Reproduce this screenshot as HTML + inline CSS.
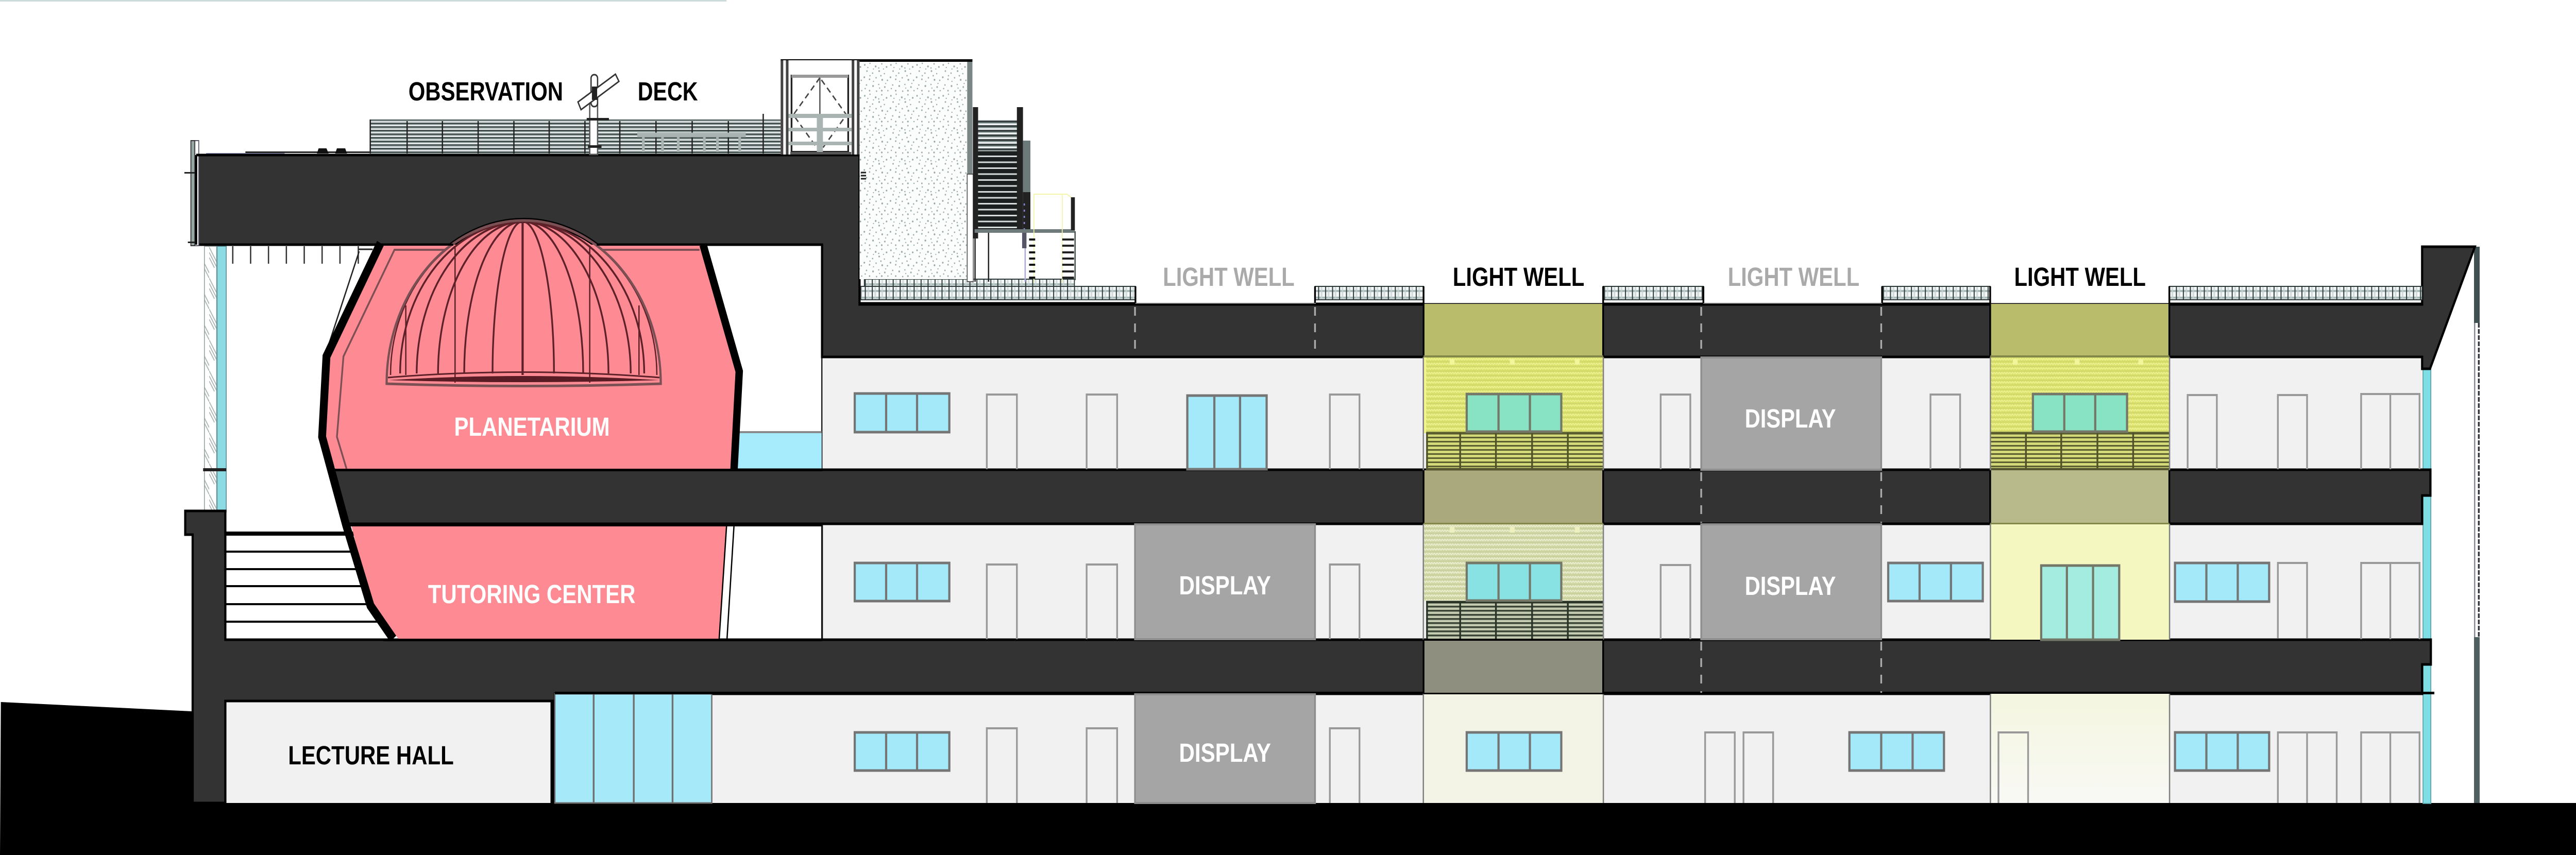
<!DOCTYPE html>
<html lang="en"><head><meta charset="utf-8"><title>Building Section</title>
<style>html,body{margin:0;padding:0;width:100%;height:100%;overflow:hidden;background:#fff}svg{display:block;width:100vw;height:100vh}text{font-family:"Liberation Sans",Arial,sans-serif;font-weight:700}</style></head>
<body>
<svg xmlns="http://www.w3.org/2000/svg" viewBox="0 0 5910 1660" preserveAspectRatio="none">
<defs>
<pattern id="rail" width="82" height="7" patternUnits="userSpaceOnUse"><rect width="82" height="7" fill="#f2f5f5"/><rect width="82" height="3" fill="#465252"/><rect y="3" width="82" height="2" fill="#a8b5b3"/></pattern>
<pattern id="stair" width="90" height="11.5" patternUnits="userSpaceOnUse"><rect width="90" height="11.5" fill="#1b1f1f"/><rect y="3" width="90" height="3" fill="#d5dcda"/></pattern>
<pattern id="stairt" width="90" height="9" patternUnits="userSpaceOnUse"><rect width="90" height="9" fill="#eef1f1"/><rect width="90" height="4" fill="#3a4444"/><rect y="4" width="90" height="2" fill="#9aa8a6"/></pattern>
<pattern id="grid" width="16" height="13" patternUnits="userSpaceOnUse"><rect width="16" height="13" fill="#f6f8f8"/><rect y="4" width="16" height="4" fill="#a9bab9"/><rect x="6" width="4" height="13" fill="#c7d2d2" opacity=".7"/><rect x="0" width="2.5" height="13" fill="#334242"/></pattern>
<pattern id="stip" width="60" height="60" patternUnits="userSpaceOnUse"><rect width="60" height="60" fill="#fbfcfc"/><g fill="#9aa9a7"><circle cx="4" cy="6" r="1.7"/><circle cx="16" cy="3" r="1.4"/><circle cx="29" cy="9" r="1.9"/><circle cx="43" cy="4" r="1.5"/><circle cx="54" cy="10" r="1.8"/><circle cx="9" cy="18" r="1.6"/><circle cx="22" cy="22" r="1.5"/><circle cx="37" cy="18" r="1.8"/><circle cx="49" cy="23" r="1.4"/><circle cx="3" cy="30" r="1.8"/><circle cx="15" cy="34" r="1.6"/><circle cx="30" cy="31" r="1.5"/><circle cx="44" cy="35" r="1.9"/><circle cx="56" cy="36" r="1.5"/><circle cx="8" cy="45" r="1.5"/><circle cx="23" cy="47" r="1.9"/><circle cx="36" cy="44" r="1.4"/><circle cx="50" cy="49" r="1.7"/><circle cx="15" cy="56" r="1.6"/><circle cx="31" cy="57" r="1.5"/><circle cx="43" cy="56" r="1.8"/><circle cx="57" cy="56" r="1.4"/><circle cx="11" cy="11" r="1.3"/><circle cx="36" cy="12" r="1.4"/><circle cx="47" cy="14" r="1.2"/><circle cx="16" cy="27" r="1.4"/><circle cx="41" cy="27" r="1.5"/><circle cx="24" cy="38" r="1.3"/><circle cx="52" cy="42" r="1.3"/><circle cx="5" cy="52" r="1.4"/><circle cx="38" cy="51" r="1.3"/><circle cx="24" cy="14" r="1.2"/></g></pattern>
<pattern id="tex1" width="12" height="9" patternUnits="userSpaceOnUse"><rect width="12" height="9" fill="#d9e06e"/><path d="M0 6 L3 3 L6 6 L9 3 L12 6" fill="none" stroke="#eef28e" stroke-width="2"/><path d="M0 0H12" stroke="#c8cf60" stroke-width="1.5"/></pattern>
<pattern id="tex2" width="12" height="9" patternUnits="userSpaceOnUse"><rect width="12" height="9" fill="#d0d6a4"/><path d="M0 6 L3 3 L6 6 L9 3 L12 6" fill="none" stroke="#eceed0" stroke-width="2"/><path d="M0 0H12" stroke="#c0c696" stroke-width="1.5"/></pattern>
<pattern id="rail1" width="80" height="8" patternUnits="userSpaceOnUse"><rect width="80" height="8" fill="#d3d878"/><rect width="80" height="3" fill="#5a5d30"/></pattern>
<pattern id="rail2" width="80" height="8" patternUnits="userSpaceOnUse"><rect width="80" height="8" fill="#c4cab0"/><rect width="80" height="3.5" fill="#3b4636"/></pattern>
<pattern id="hatch" width="30" height="60" patternUnits="userSpaceOnUse"><rect width="30" height="60" fill="#fff"/><path d="M0 0 L30 50 M0 10 L30 60 M0 20 L12 40" stroke="#aab4b4" stroke-width="2" fill="none"/></pattern>
<linearGradient id="gf" x1="0" y1="0" x2="0" y2="1"><stop offset="0" stop-color="#f4f6df"/><stop offset="1" stop-color="#f9f9f5"/></linearGradient>
<clipPath id="above"><rect x="800" y="400" width="800" height="75"/></clipPath>
</defs>

<rect width="5910" height="1660" fill="#fff"/>
<rect x="0" y="0" width="1667" height="3" fill="#cfdcdc"/>

<!-- Floors -->
<rect x="1886" y="692" width="3671" height="222" fill="#f1f1f1"/>
<rect x="1886" y="1016" width="3671" height="228" fill="#f1f1f1"/>
<rect x="1273" y="1345" width="4284" height="216" fill="#f1f1f1"/>
<rect x="517" y="1362" width="746" height="199" fill="#f1f1f1"/>
<rect x="1884" y="692" width="3" height="222" fill="#222"/>
<rect x="1884" y="1016" width="4" height="228" fill="#111"/>

<!-- Ground -->
<polygon points="0,1660 2,1363 440,1381 440,1559 5910,1559 5910,1660" fill="#000"/>

<!-- Teal facade strips -->
<rect x="5559" y="716" width="18" height="195" fill="#7fdde6" stroke="#5b9ea5" stroke-width="2"/>
<rect x="5559" y="962" width="18" height="282" fill="#7fdde6" stroke="#5b9ea5" stroke-width="2"/>
<rect x="5559" y="1290" width="18" height="270" fill="#7fdde6" stroke="#5b9ea5" stroke-width="2"/>

<!-- Right outer line -->
<rect x="5676" y="479" width="13" height="148" fill="#3f5050"/>
<rect x="5676" y="1237" width="13" height="322" fill="#4f6060"/>
<rect x="5676" y="627" width="3" height="610" fill="#889"/>
<path d="M5687 627V1237" stroke="#334" stroke-width="4" stroke-dasharray="9 3" fill="none"/>

<!-- Left facade -->
<rect x="469" y="478" width="28" height="516" fill="url(#hatch)" stroke="#9aa5a5" stroke-width="2"/>
<rect x="498" y="478" width="21" height="516" fill="#8cdbe2" stroke="#5a8f95" stroke-width="2"/>
<rect x="466" y="909" width="53" height="6" fill="#222"/>

<!-- Under-slab ticks -->
<path d="M534 478V512M575 478V512M616 478V512M657 478V512M698 478V512M739 478V512M780 478V512M822 478V512" stroke="#333" stroke-width="3" fill="none"/>
<path d="M824 488 L746 690 M823 484H855" stroke="#222" stroke-width="3" fill="none"/>

<!-- Stairs on terrace -->
<rect x="517" y="1032" width="300" height="8" fill="#000"/>
<g fill="#000"><rect x="517" y="1069" width="400" height="4"/><rect x="517" y="1103" width="400" height="4"/><rect x="517" y="1136" width="400" height="4"/><rect x="517" y="1171" width="400" height="4"/><rect x="517" y="1205" width="400" height="4"/></g>

<!-- Planetarium blue glass -->
<rect x="1680" y="840" width="205" height="72" fill="#a6ecfc"/>
<rect x="1690" y="837" width="195" height="4" fill="#8a8a8a"/>

<!-- Slabs -->
<path d="M425 992H517V1242H5577V1290H5557V1347H1273V1361H517V1559H442V1038H425Z" fill="#333" stroke="#000" stroke-width="5"/>
<path d="M762 912H5576V962H5557V1017H800Z" fill="#333" stroke="#000" stroke-width="5"/>
<path d="M450 301H1972V591H5557V479H5678L5575 716H5557V693H1886V475H450Z" fill="#333" stroke="#000" stroke-width="5"/>

<!-- Pink rooms -->
<polygon points="872,476 1613,476 1692,721 1680,912 770,912 741,848 752,692" fill="#fe8b93"/>
<polygon points="806,1020 1666,1020 1649,1240 914,1240 852,1176" fill="#fe8b93"/>
<path d="M1667 1020 L1650 1240 M1684 1020 L1668 1240" stroke="#000" stroke-width="3" fill="none"/>
<path d="M1605 485H905L788 692 773 848 795 910" fill="none" stroke="#7e5055" stroke-width="4"/>

<!-- Dome -->
<path d="M887 745 A314.5 317 0 0 1 1516 745Z" fill="#fe8b93"/>
<path d="M887 745 A314.5 317 0 0 1 1516 745" fill="none" stroke="#000" stroke-width="10" clip-path="url(#above)"/>
<g fill="none" stroke="#5e2029" stroke-width="4">
<path d="M1199 430 A281 295 0 0 0 918 725"/>
<path d="M1199 430 A243 295 0 0 0 956 725"/>
<path d="M1199 430 A194 295 0 0 0 1005 725"/>
<path d="M1199 430 A134 295 0 0 0 1065 725"/>
<path d="M1199 430 A69 295 0 0 0 1130 725"/>
<path d="M1199 430V728" stroke-width="5"/>
<path d="M1199 430 A72 295 0 0 1 1271 725"/>
<path d="M1199 430 A139 295 0 0 1 1338 725"/>
<path d="M1199 430 A197 295 0 0 1 1396 725"/>
<path d="M1199 430 A248 295 0 0 1 1447 725"/>
<path d="M1199 430 A279 295 0 0 1 1478 725"/>
<path d="M1044 477V743M1353 477V743M931 593V728M1466 593V728" stroke-width="3"/>
<path d="M896 728 A303 298 0 0 1 1199 430 A303 298 0 0 1 1507 728" stroke-width="3"/>
<path d="M890 733 Q1199 712 1513 733" stroke-width="3"/>
</g>
<path d="M887 745 A314.5 317 0 0 1 1516 745 Q1199 754 887 745Z" fill="none" stroke="#7a5054" stroke-width="5"/>
<path d="M892 738 Q1199 722 1512 738 Q1199 746 892 738Z" fill="#5a1c24"/>

<!-- Thick black walls -->
<polyline points="873,472 749,692 739,848 794,1019 850,1176 902,1240" fill="none" stroke="#000" stroke-width="18" stroke-linejoin="miter"/>
<polyline points="1613,475 1696,721 1684,912" fill="none" stroke="#000" stroke-width="17"/>

<!-- Re-draw slab edges over pink -->
<rect x="880" y="473" width="160" height="4" fill="#000"/>
<rect x="1369" y="473" width="517" height="4" fill="#000"/>
<rect x="765" y="910" width="1121" height="5" fill="#000"/>
<rect x="800" y="1017" width="1086" height="5" fill="#000"/>
<rect x="880" y="1240" width="1006" height="5" fill="#000"/>

<!-- Glass wall at Lecture Hall -->
<rect x="1263" y="1361" width="10" height="198" fill="#000"/>
<rect x="1273" y="1347" width="360" height="212" fill="#a6e9f9" stroke="#707070" stroke-width="3"/>
<path d="M1362 1347V1559M1454 1347V1559M1543 1347V1559" stroke="#707070" stroke-width="4"/>
<rect x="1273" y="1343" width="4312" height="5" fill="#000"/>

<!-- Display panels -->
<g fill="#a5a5a5" stroke="#8e8e8e" stroke-width="4">
<rect x="2604" y="1018" width="413" height="223"/>
<rect x="2604" y="1348" width="413" height="211"/>
<rect x="3903" y="694" width="413" height="218"/>
<rect x="3903" y="1018" width="413" height="223"/>
</g>

<!-- Light well column 1 -->
<rect x="3266" y="590" width="412" height="103" fill="#b9bc6b"/>
<rect x="3266" y="693" width="412" height="148" fill="url(#tex1)"/>
<rect x="3267" y="693" width="5" height="147" fill="#f2f58e"/>
<rect x="3266" y="913" width="412" height="104" fill="#aaa97e"/>
<rect x="3266" y="1017" width="412" height="150" fill="url(#tex2)"/>
<rect x="3266" y="1242" width="412" height="105" fill="#8f8f80"/>
<rect x="3266" y="1347" width="412" height="212" fill="#f3f3e6"/>
<rect x="3272" y="840" width="406" height="73" fill="url(#rail1)"/>
<rect x="3272" y="1167" width="406" height="74" fill="url(#rail2)"/>
<path d="M3272 841H3678" stroke="#5a5d30" stroke-width="5"/>
<path d="M3272 1169H3678" stroke="#2a3328" stroke-width="5"/>
<path d="M3274 840V913M3350 840V913M3432 840V913M3515 840V913M3597 840V913" stroke="#4f5228" stroke-width="4"/>
<path d="M3274 1167V1241M3350 1167V1241M3432 1167V1241M3515 1167V1241M3597 1167V1241" stroke="#2a3328" stroke-width="4"/>
<path d="M3272 911H3678" stroke="#565630" stroke-width="5"/>

<!-- Light well column 2 -->
<rect x="4566" y="590" width="411" height="103" fill="#b9bc6b"/>
<rect x="4566" y="693" width="411" height="148" fill="url(#tex1)"/>
<rect x="4566" y="840" width="411" height="73" fill="url(#rail1)"/>
<path d="M4566 841H4977" stroke="#5a5d30" stroke-width="5"/>
<path d="M4648 840V913M4729 840V913M4812 840V913M4894 840V913" stroke="#4f5228" stroke-width="4"/>
<path d="M4566 911H4977" stroke="#565630" stroke-width="5"/>
<rect x="4566" y="913" width="411" height="104" fill="#b9ba8b"/>
<rect x="4566" y="1017" width="411" height="225" fill="#f4f8c0"/>
<rect x="4566" y="1347" width="411" height="212" fill="url(#gf)"/>

<!-- Column edges -->
<g fill="#000">
<rect x="3264" y="590" width="4" height="103"/><rect x="3676" y="590" width="4" height="103"/>
<rect x="3264" y="913" width="4" height="104"/><rect x="3676" y="913" width="4" height="104"/>
<rect x="3264" y="1242" width="4" height="105"/><rect x="3676" y="1242" width="4" height="105"/>
<rect x="4564" y="590" width="4" height="103"/><rect x="4975" y="590" width="4" height="103"/>
<rect x="4564" y="913" width="4" height="104"/><rect x="4975" y="913" width="4" height="104"/>
</g>
<g fill="#808080">
<rect x="3264" y="693" width="3" height="220"/><rect x="3677" y="693" width="3" height="220"/>
<rect x="3264" y="1017" width="3" height="225"/><rect x="3677" y="1017" width="3" height="225"/>
<rect x="3264" y="1347" width="3" height="212"/><rect x="3677" y="1347" width="3" height="212"/>
<rect x="4565" y="693" width="3" height="220"/><rect x="4976" y="693" width="3" height="220"/>
<rect x="4565" y="1017" width="3" height="225"/><rect x="4976" y="1017" width="3" height="225"/>
<rect x="4565" y="1347" width="3" height="212"/><rect x="4976" y="1347" width="3" height="212"/>
</g>
<g fill="#84874a"><rect x="3266" y="690" width="412" height="4"/><rect x="4566" y="690" width="411" height="4"/><rect x="3266" y="1015" width="412" height="3"/><rect x="4566" y="1015" width="411" height="3"/></g>
<g fill="#000"><rect x="3266" y="1240" width="412" height="4"/><rect x="3266" y="1345" width="412" height="3"/><rect x="3678" y="1345" width="888" height="3"/></g>

<!-- Doors -->
<g fill="none" stroke="#999" stroke-width="4">
<path d="M2264 911V766H2333V911M2493 911V766H2563V911M3051 911V766H3119V911"/>
<path d="M2264 1241V1096H2333V1241M2493 1241V1096H2563V1241M3051 1241V1096H3119V1241"/>
<path d="M2264 1559V1414H2333V1559M2493 1559V1414H2563V1559M3051 1559V1414H3119V1559"/>
<path d="M3810 911V766H3878V911M4429 911V766H4497V911"/>
<path d="M3810 1241V1097H3878V1241"/>
<path d="M3912 1559V1422H3980V1559M4000 1559V1422H4068V1559"/>
<path d="M4585 1559V1422H4653V1559"/>
<path d="M5019 911V767H5086V911M5226 911V767H5293V911"/>
<path d="M5417 911V765H5551V911M5484 765V911"/>
<path d="M5226 1239V1093H5293V1239"/>
<path d="M5417 1241V1093H5551V1241M5484 1093V1241"/>
<path d="M5226 1559V1422H5361V1559M5293 1422V1559"/>
<path d="M5417 1559V1422H5551V1559M5484 1422V1559"/>
</g>

<!-- Windows -->
<g fill="#a3e9fa" stroke="#757575" stroke-width="5">
<rect x="1961" y="764" width="217" height="75"/><path d="M2033 764V839M2104 764V839"/>
<rect x="1961" y="1093" width="217" height="74"/><path d="M2033 1093V1167M2104 1093V1167"/>
<rect x="1961" y="1422" width="217" height="74"/><path d="M2033 1422V1496M2104 1422V1496"/>
<path d="M2724 911V768H2906V911Z"/><path d="M2786 768V911M2845 768V911"/>
<rect x="4332" y="1093" width="217" height="74"/><path d="M4404 1093V1167M4476 1093V1167"/>
<rect x="4243" y="1422" width="217" height="74"/><path d="M4316 1422V1496M4388 1422V1496"/>
<rect x="3365" y="1422" width="217" height="74"/><path d="M3438 1422V1496M3510 1422V1496"/>
<rect x="4990" y="1093" width="216" height="75"/><path d="M5062 1093V1168M5134 1093V1168"/>
<rect x="4990" y="1422" width="216" height="74"/><path d="M5062 1422V1496M5134 1422V1496"/>
</g>
<g stroke="#747868" stroke-width="5">
<rect x="3365" y="765" width="217" height="73" fill="#88e2c4"/><path d="M3438 765V838M3510 765V838"/>
<rect x="4664" y="765" width="216" height="73" fill="#88e2c4"/><path d="M4736 765V838M4807 765V838"/>
<rect x="3365" y="1093" width="217" height="73" fill="#88e2e4"/><path d="M3438 1093V1166M3510 1093V1166"/>
<path d="M4683 1242V1098H4862V1242Z" fill="#a4ece0"/><path d="M4742 1098V1242M4802 1098V1242"/>
</g>
<g fill="#f2f59a">
<rect x="3326" y="697" width="11" height="11"/><rect x="3464" y="697" width="11" height="11"/><rect x="3613" y="697" width="11" height="11"/>
<rect x="3326" y="1023" width="11" height="11" fill="#eef0c0"/><rect x="3464" y="1023" width="11" height="11" fill="#eef0c0"/><rect x="3613" y="1023" width="11" height="11" fill="#eef0c0"/>
<rect x="4618" y="697" width="11" height="11"/><rect x="4760" y="697" width="11" height="11"/><rect x="4906" y="697" width="11" height="11"/></g>

<!-- Dashes -->
<g stroke="#aaa" stroke-width="4" stroke-dasharray="17 15" fill="none">
<path d="M2604 596V692M3017 596V692"/>
<path d="M3903 596V692M4316 596V692"/>
<path d="M3903 917V1015M4316 917V1015"/>
<path d="M3903 1246V1345M4316 1246V1345"/>
</g>

<!-- Roof parapet grids -->
<g stroke="#2a3535" stroke-width="2">
<rect x="1975" y="556" width="630" height="26" fill="url(#grid)"/>
<rect x="1983" y="542" width="482" height="14" fill="url(#grid)"/>
<rect x="3017" y="556" width="249" height="26" fill="url(#grid)"/>
<rect x="3678" y="556" width="230" height="26" fill="url(#grid)"/>
<rect x="4318" y="556" width="248" height="26" fill="url(#grid)"/>
<rect x="4977" y="556" width="580" height="26" fill="url(#grid)"/>
</g>
<g fill="#000"><rect x="2603" y="556" width="4" height="34"/><rect x="3015" y="556" width="4" height="34"/><rect x="3264" y="556" width="4" height="34"/><rect x="3676" y="556" width="4" height="34"/><rect x="3906" y="556" width="4" height="34"/><rect x="4316" y="556" width="4" height="34"/><rect x="4564" y="556" width="4" height="34"/><rect x="4975" y="556" width="4" height="34"/></g>
<path d="M1974 590H2605" stroke="#000" stroke-width="7"/>
<path d="M3019 590H3266M3678 590H3908M4318 590H4566M4977 590H5557" stroke="#000" stroke-width="5"/>
<path d="M2605 589H3019M3908 589H4318" stroke="#777" stroke-width="2"/>

<!-- Stair tower -->
<rect x="1972" y="118" width="247" height="424" fill="url(#stip)"/>
<rect x="1983" y="335" width="24" height="20" fill="none"/>
<path d="M1975 335H1987M1975 341H1987M1975 347H1987" stroke="#222" stroke-width="3"/>
<rect x="2219" y="118" width="12" height="220" fill="#7a8585"/>
<rect x="2219" y="338" width="14" height="209" fill="#fff" stroke="#555" stroke-width="2"/>
<rect x="1791" y="115" width="440" height="5" fill="#000"/>
<rect x="2232" y="208" width="12" height="255" fill="#222"/>
<rect x="2244" y="232" width="90" height="60" fill="url(#stairt)"/>
<rect x="2244" y="292" width="90" height="155" fill="url(#stair)"/>
<rect x="2333" y="208" width="14" height="240" fill="#222"/>
<rect x="2347" y="273" width="17" height="100" fill="#6d7a7a"/>
<rect x="2347" y="373" width="17" height="74" fill="#222"/>
<path d="M2350 395V445" stroke="#8888dd" stroke-width="3" stroke-dasharray="4 8"/>
<rect x="2236" y="445" width="230" height="7" fill="#6f7a7a"/>
<path d="M2237 452V547M2268 452V547" stroke="#222" stroke-width="3"/>
<rect x="2345" y="452" width="10" height="30" fill="#556"/>
<path d="M2352 482V547" stroke="#aaaadd" stroke-width="3"/>
<rect x="2457" y="383" width="9" height="64" fill="#222"/>
<path d="M2372 377V549M2437 377V549M2372 377H2448L2457 383" stroke="#f3f5a8" stroke-width="2" fill="none"/>
<path d="M2361 465H2375M2361 477H2375M2361 490H2375M2361 502H2375M2361 514H2375M2361 527H2375M2361 539H2375" stroke="#111" stroke-width="4"/>
<path d="M2437 465H2464M2437 477H2464M2437 490H2464M2437 502H2464M2437 514H2464M2437 527H2464M2437 539H2464" stroke="#222" stroke-width="4"/>
<rect x="2465" y="449" width="3" height="95" fill="#4a5656"/>

<!-- Deck railing -->
<rect x="848" y="232" width="944" height="66" fill="url(#rail)"/>
<rect x="848" y="232" width="3" height="66" fill="#222"/>
<path d="M934 235V298M1015 235V298M1097 235V298M1179 235V298M1260 235V298M1342 235V298M1422 235V298M1505 235V298M1588 235V298M1671 235V298M1751 221V298" stroke="#222" stroke-width="3"/>
<!-- Bench -->
<path d="M1462 262H1711" stroke="#a9b4b2" stroke-width="9"/>
<path d="M1476 265V295M1520 265V295M1556 265V295M1616 265V295M1646 265V295M1697 265V295" stroke="#a9b4b2" stroke-width="6"/>
<!-- Left railing stub -->
<rect x="438" y="273" width="18" height="204" fill="#fff" stroke="#556" stroke-width="2"/>
<rect x="438" y="273" width="9" height="204" fill="#97a5a5" stroke="#333" stroke-width="2"/>
<rect x="473" y="297" width="180" height="3" fill="#88a"/>
<rect x="563" y="294" width="285" height="3" fill="#222"/>
<polygon points="727,298 731,288 749,288 754,298" fill="#111"/><polygon points="769,298 773,288 792,288 796,298" fill="#111"/>
<rect x="423" y="334" width="25" height="3" fill="#222"/><rect x="431" y="469" width="17" height="3" fill="#222"/>
<path d="M450 301H1972" stroke="#000" stroke-width="5"/>
<path d="M450 301V475" stroke="#000" stroke-width="5"/>

<!-- Elevator -->
<rect x="1791" y="117" width="181" height="183" fill="#fff"/>
<g fill="#444"><rect x="1791" y="117" width="6" height="183"/><rect x="1803" y="117" width="6" height="183"/><rect x="1954" y="117" width="6" height="183"/><rect x="1966" y="117" width="6" height="183"/></g>
<rect x="1816" y="147" width="130" height="148" fill="#fff" stroke="#222" stroke-width="4"/>
<rect x="1816" y="145" width="130" height="6" fill="#999"/>
<path d="M1881 151 L1820 223 L1881 295 L1942 223Z" fill="none" stroke="#444" stroke-width="3" stroke-dasharray="12 8"/>
<path d="M1881 151V295" stroke="#555" stroke-width="3"/>
<g fill="#aab5b3"><rect x="1809" y="221" width="145" height="8"/><rect x="1809" y="248" width="145" height="7"/><rect x="1809" y="275" width="145" height="7"/><rect x="1874" y="221" width="14" height="74"/></g>
<rect x="1813" y="295" width="140" height="5" fill="#555"/>

<!-- Telescope -->
<rect x="1353" y="200" width="18" height="100" fill="#fff" stroke="#555" stroke-width="3"/>
<rect x="1346" y="229" width="51" height="5" fill="#222"/>
<rect x="1349" y="282" width="31" height="5" fill="#222"/>
<rect x="1356" y="145" width="15" height="62" rx="7" fill="#fff" stroke="#333" stroke-width="3"/>
<polygon points="1326,198 1412,144 1420,158 1333,213" fill="#fff" stroke="#333" stroke-width="3"/>
<rect x="1358" y="168" width="12" height="26" fill="#222"/>

<!-- Labels -->
<g font-size="51">
<text x="937" y="195" textLength="355" lengthAdjust="spacingAndGlyphs" fill="#000">OBSERVATION</text>
<text x="1463" y="195" textLength="138" lengthAdjust="spacingAndGlyphs" fill="#000">DECK</text>
<text x="1042" y="846" textLength="357" lengthAdjust="spacingAndGlyphs" fill="#fff">PLANETARIUM</text>
<text x="982" y="1171" textLength="476" lengthAdjust="spacingAndGlyphs" fill="#fff">TUTORING CENTER</text>
<text x="661" y="1484" textLength="380" lengthAdjust="spacingAndGlyphs" fill="#000">LECTURE HALL</text>
<text x="2668" y="555" textLength="302" lengthAdjust="spacingAndGlyphs" fill="#aaa">LIGHT WELL</text>
<text x="3333" y="555" textLength="302" lengthAdjust="spacingAndGlyphs" fill="#000">LIGHT WELL</text>
<text x="3964" y="555" textLength="302" lengthAdjust="spacingAndGlyphs" fill="#aaa">LIGHT WELL</text>
<text x="4621" y="555" textLength="302" lengthAdjust="spacingAndGlyphs" fill="#000">LIGHT WELL</text>
<text x="2705" y="1154" textLength="211" lengthAdjust="spacingAndGlyphs" fill="#fff">DISPLAY</text>
<text x="2705" y="1479" textLength="211" lengthAdjust="spacingAndGlyphs" fill="#fff">DISPLAY</text>
<text x="4003" y="830" textLength="209" lengthAdjust="spacingAndGlyphs" fill="#fff">DISPLAY</text>
<text x="4003" y="1155" textLength="209" lengthAdjust="spacingAndGlyphs" fill="#fff">DISPLAY</text>
</g>
</svg>
</body></html>
